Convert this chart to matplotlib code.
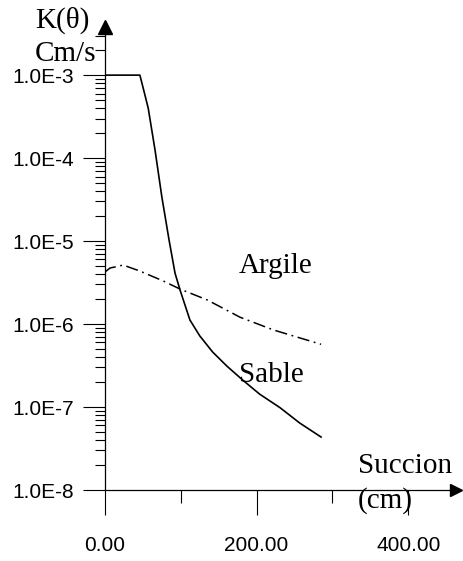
import numpy as np
import matplotlib
matplotlib.use("Agg")
import matplotlib.pyplot as plt
from matplotlib.ticker import LogLocator, NullFormatter, FixedLocator

# courbe du sable (succion en cm, K en cm/s)
sable_x = [0, 46, 50, 57, 66, 75, 84.5, 92.4, 99, 112, 125, 142, 161, 182, 204, 231, 257, 285]
sable_k = [1e-3, 1e-3, 7.2e-4, 4.0e-4, 1.25e-4, 3.4e-5, 1.03e-5, 4.1e-6, 2.57e-6, 1.12e-6,
           7.2e-7, 4.6e-7, 3.1e-7, 2.1e-7, 1.43e-7, 9.8e-8, 6.4e-8, 4.35e-8]

# courbe de l'argile
argile_x = [0, 6.6, 24, 46, 77, 99, 135, 178, 222, 285]
argile_k = [4.24e-6, 4.73e-6, 5.14e-6, 4.35e-6, 3.3e-6, 2.64e-6, 1.95e-6, 1.21e-6, 8.5e-7, 5.7e-7]

y_ticks = [1e-8, 1e-7, 1e-6, 1e-5, 1e-4, 1e-3]
y_labels = ["1.0E-8", "1.0E-7", "1.0E-6", "1.0E-5", "1.0E-4", "1.0E-3"]
x_ticks = [0, 200, 400]
x_labels = ["0.00", "200.00", "400.00"]

serif = "Liberation Serif"
sans = "Liberation Sans"

fig = plt.figure(figsize=(4.63, 5.61), dpi=100)
ax = fig.add_axes([105/463, 71/561, 351/463, 463/561])

ax.plot(sable_x, sable_k, color="black", lw=1.2)
ax.plot(argile_x, argile_k, color="black", lw=1.1, linestyle=(0, (8, 3, 1.2, 3)))

ax.set_yscale("log")
ax.set_xlim(0, 463)
ax.set_ylim(1e-8, 10**-2.42)

ax.spines["top"].set_visible(False)
ax.spines["right"].set_visible(False)
ax.spines["left"].set_linewidth(0.9)
ax.spines["bottom"].set_linewidth(0.9)

ax.set_yticks(y_ticks)
ax.set_yticklabels(y_labels, fontsize=15, family=sans)
ax.yaxis.set_minor_locator(LogLocator(base=10, subs=np.arange(2, 10)))
ax.yaxis.set_minor_formatter(NullFormatter())
ax.tick_params(axis="y", which="major", length=16, width=0.8, pad=6)
ax.tick_params(axis="y", which="minor", length=7.2, width=0.8)

ax.set_xticks(x_ticks)
ax.set_xticklabels(x_labels, fontsize=15, family=sans)
ax.xaxis.set_minor_locator(FixedLocator([100, 300]))
ax.tick_params(axis="x", which="major", length=18, width=0.8, pad=15)
ax.tick_params(axis="x", which="minor", length=9.4, width=0.8)

# fleches des axes
ax.plot([0], [10**-2.42], marker="^", color="black", ms=10, clip_on=False)
ax.plot([463], [1e-8], marker=">", color="black", ms=9, clip_on=False)

# textes
fig.text(62/463, 1 - 28/561, "K(θ)", fontsize=21, family=serif, ha="center", va="baseline")
fig.text(65/463, 1 - 61/561, "Cm/s", fontsize=21, family=serif, ha="center", va="baseline")
fig.text(276/463, 1 - 273/561, "Argile", fontsize=21, family=serif, ha="center", va="baseline")
fig.text(271/463, 1 - 382/561, "Sable", fontsize=21, family=serif, ha="center", va="baseline")
fig.text(405/463, 1 - 473/561, "Succion", fontsize=21, family=serif, ha="center", va="baseline")
fig.text(385/463, 1 - 508/561, "(cm)", fontsize=21, family=serif, ha="center", va="baseline")

fig.savefig("out.png", dpi=100)
